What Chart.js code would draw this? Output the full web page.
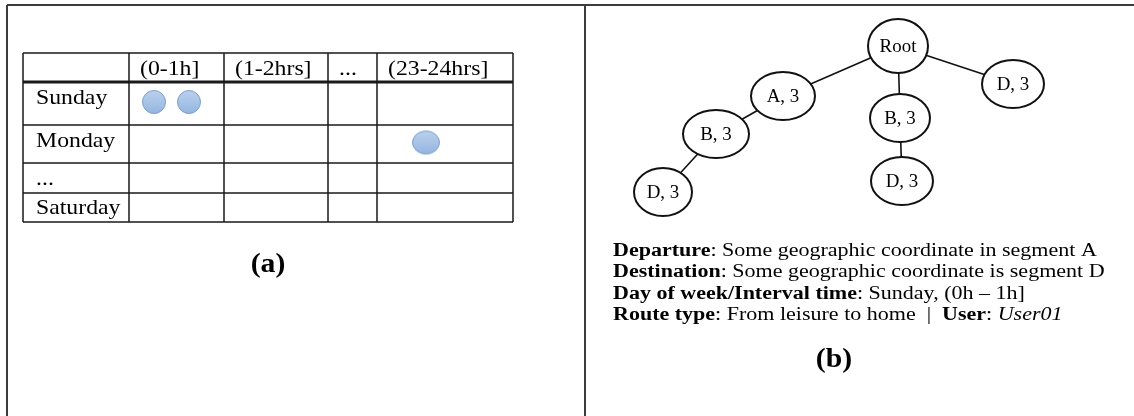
<!DOCTYPE html>
<html>
<head>
<meta charset="utf-8">
<script src="https://cdn.jsdelivr.net/npm/chart.js@4.4.1/dist/chart.umd.min.js"></script>
<style>
html, body { margin: 0; padding: 0; background: #fff; }
canvas { display: block; }
</style>
</head>
<body>
<canvas id="myChart" width="1134" height="416"></canvas>
<script>
// (a) trips per day and hour interval
var days = ['Sunday', 'Monday', '...', 'Saturday'];
var intervals = ['(0-1h]', '(1-2hrs]', '...', '(23-24hrs]'];
var tripCounts = [
    [2, 0, 0, 0],
    [0, 0, 0, 1],
    [0, 0, 0, 0],
    [0, 0, 0, 0]
];

// (b) route tree
var nodeLabels = ['Root', 'A, 3', 'B, 3', 'D, 3', 'B, 3', 'D, 3', 'D, 3'];
var nodeParents = [-1, 0, 1, 2, 0, 4, 0];

var infoKeys = ['Departure', 'Destination', 'Day of week/Interval time', 'Route type'];
var infoValues = ['Some geographic coordinate in segment A', 'Some geographic coordinate is segment D', 'Sunday, (0h \u2013 1h]', 'From leisure to home'];
var userKey = 'User';
var userValue = 'User01';
var captions = ['(a)', '(b)'];

// layout, in page pixels
var colEdges = [23, 129, 224, 328, 377, 513];
var rowEdges = [53, 82, 125, 163, 193, 222];
var tripStart = [25, 25, 25, 49];
var nodePos = [[898, 46], [783, 96], [716, 134], [663, 192], [900, 118], [902, 181], [1013, 84]];
var nodeSize = [[30, 27], [32, 24], [33, 24], [29, 24], [30, 24], [31, 24], [31, 24]];

var SERIF = '"Liberation Serif", "Times New Roman", serif';

function segs(list) {
    var out = [];
    list.forEach(function (s) {
        out.push({x: s[0], y: s[1]}, {x: s[2], y: s[3]}, {x: null, y: null});
    });
    return out;
}

function ellipseImg(rx, ry, lw, blue) {
    var c = document.createElement('canvas');
    c.width = Math.ceil(2 * rx + lw + 2);
    c.height = Math.ceil(2 * ry + lw + 2);
    var g = c.getContext('2d');
    g.beginPath();
    g.ellipse(c.width / 2, c.height / 2, rx, ry, 0, 0, Math.PI * 2);
    if (blue) {
        var gr = g.createLinearGradient(0, 0, 0, c.height);
        gr.addColorStop(0, '#bcd2ee');
        gr.addColorStop(1, '#93b4df');
        g.fillStyle = gr;
        g.fill();
        g.strokeStyle = '#7d9dcc';
    } else {
        g.fillStyle = '#fff';
        g.fill();
        g.strokeStyle = '#111';
    }
    g.lineWidth = lw;
    g.stroke();
    return c;
}

// frame
var frameSegs = segs([[7, 5, 1134, 5], [7, 5, 7, 416], [585, 5, 585, 416]]);

// table grid
var tableThin = [], tableThick = [];
rowEdges.forEach(function (y, i) {
    var s = [colEdges[0], y, colEdges[colEdges.length - 1], y];
    if (i === 1) tableThick.push(s); else tableThin.push(s);
});
colEdges.forEach(function (x) {
    tableThin.push([x, rowEdges[0], x, rowEdges[rowEdges.length - 1]]);
});

// trip marks
var trips = [];
tripCounts.forEach(function (row, r) {
    row.forEach(function (n, c) {
        for (var k = 0; k < n; k++) {
            trips.push({x: colEdges[c + 1] + tripStart[c] + k * 35, y: (rowEdges[r + 1] + rowEdges[r + 2]) / 2 - 1.5, col: c});
        }
    });
});
var circleSmall = ellipseImg(11.5, 11.5, 1, true);
var circleWide = ellipseImg(13.5, 11.5, 1, true);

// tree
var edgeList = [];
nodeParents.forEach(function (p, i) {
    if (p >= 0) edgeList.push([nodePos[p][0], nodePos[p][1], nodePos[i][0], nodePos[i][1]]);
});
var nodeImgs = nodeSize.map(function (s) { return ellipseImg(s[0], s[1], 2, false); });
var nodes = nodePos.map(function (p, i) { return {x: p[0], y: p[1], label: nodeLabels[i]}; });

function drawRuns(ctx, runs, x, y, sx, align) {
    ctx.save();
    var w = 0;
    runs.forEach(function (r) { ctx.font = r.font; w += ctx.measureText(r.text).width; });
    ctx.translate(x, y);
    ctx.scale(sx, 1);
    var cx = align === 'center' ? -w / 2 : 0;
    ctx.textAlign = 'left';
    ctx.textBaseline = 'alphabetic';
    ctx.fillStyle = '#000';
    runs.forEach(function (r) {
        ctx.font = r.font;
        ctx.fillText(r.text, cx, 0);
        cx += ctx.measureText(r.text).width;
    });
    ctx.restore();
}

var textPlugin = {
    id: 'texts',
    afterDatasetsDraw: function (chart) {
        var ctx = chart.ctx, xs = chart.scales.x, ys = chart.scales.y;
        var tf = '22px ' + SERIF;
        intervals.forEach(function (t, i) {
            drawRuns(ctx, [{text: t, font: tf}], xs.getPixelForValue(colEdges[i + 1] + 11), ys.getPixelForValue(rowEdges[0] + 22), 1.08);
        });
        days.forEach(function (t, i) {
            var base = Math.min(rowEdges[i + 1] + 22, rowEdges[i + 2] - 8);
            drawRuns(ctx, [{text: t, font: tf}], xs.getPixelForValue(colEdges[0] + 13), ys.getPixelForValue(base), 1.08);
        });
        var cf = 'bold 27px ' + SERIF;
        drawRuns(ctx, [{text: captions[0], font: cf}], xs.getPixelForValue(268), ys.getPixelForValue(272), 1.1, 'center');
        drawRuns(ctx, [{text: captions[1], font: cf}], xs.getPixelForValue(834), ys.getPixelForValue(367), 1.1, 'center');

        var meta = chart.getDatasetMeta(4);
        meta.data.forEach(function (pt, i) {
            drawRuns(ctx, [{text: nodeLabels[i], font: '18px ' + SERIF}], pt.x, pt.y + 6, 1.05, 'center');
        });

        var bf = 'bold 18.5px ' + SERIF, rf = '18.5px ' + SERIF, itf = 'italic 18.5px ' + SERIF;
        infoKeys.forEach(function (k, i) {
            var runs = [{text: k, font: bf}, {text: ': ' + infoValues[i], font: rf}];
            if (i === infoKeys.length - 1) {
                runs.push({text: '  |  ', font: rf}, {text: userKey, font: bf}, {text: ': ', font: rf}, {text: userValue, font: itf});
            }
            drawRuns(ctx, runs, xs.getPixelForValue(613), ys.getPixelForValue(256 + i * 21.3), 1.19);
        });
    }
};

var lineDefaults = {showLine: true, pointRadius: 0, spanGaps: false, clip: false, borderCapStyle: 'butt'};

var myChart = document.getElementById('myChart').getContext('2d');
var chart = new Chart(myChart, {
    type: 'scatter',
    data: {
        datasets: [
            Object.assign({label: 'frame', data: frameSegs, borderColor: '#3c3c3c', borderWidth: 2, order: 5}, lineDefaults),
            Object.assign({label: 'grid', data: segs(tableThin), borderColor: '#1a1a1a', borderWidth: 1.5, order: 4}, lineDefaults),
            Object.assign({label: 'header', data: segs(tableThick), borderColor: '#1a1a1a', borderWidth: 3, order: 4}, lineDefaults),
            Object.assign({label: 'edges', data: segs(edgeList), borderColor: '#111', borderWidth: 1.6, order: 3}, lineDefaults),
            {
                label: 'nodes', data: nodes, order: 1, clip: false,
                pointStyle: function (c) { return nodeImgs[c.dataIndex]; }
            },
            {
                label: 'trips', data: trips, order: 1, clip: false,
                pointStyle: function (c) { return c.raw && c.raw.col === 3 ? circleWide : circleSmall; }
            }
        ]
    },
    options: {
        responsive: false,
        animation: false,
        devicePixelRatio: 1,
        events: [],
        layout: {padding: 0, autoPadding: false},
        plugins: {legend: {display: false}, tooltip: {enabled: false}},
        scales: {
            x: {type: 'linear', min: 0, max: 1134, display: false},
            y: {type: 'linear', min: 0, max: 416, reverse: true, display: false}
        }
    },
    plugins: [textPlugin]
});
</script>
</body>
</html>
